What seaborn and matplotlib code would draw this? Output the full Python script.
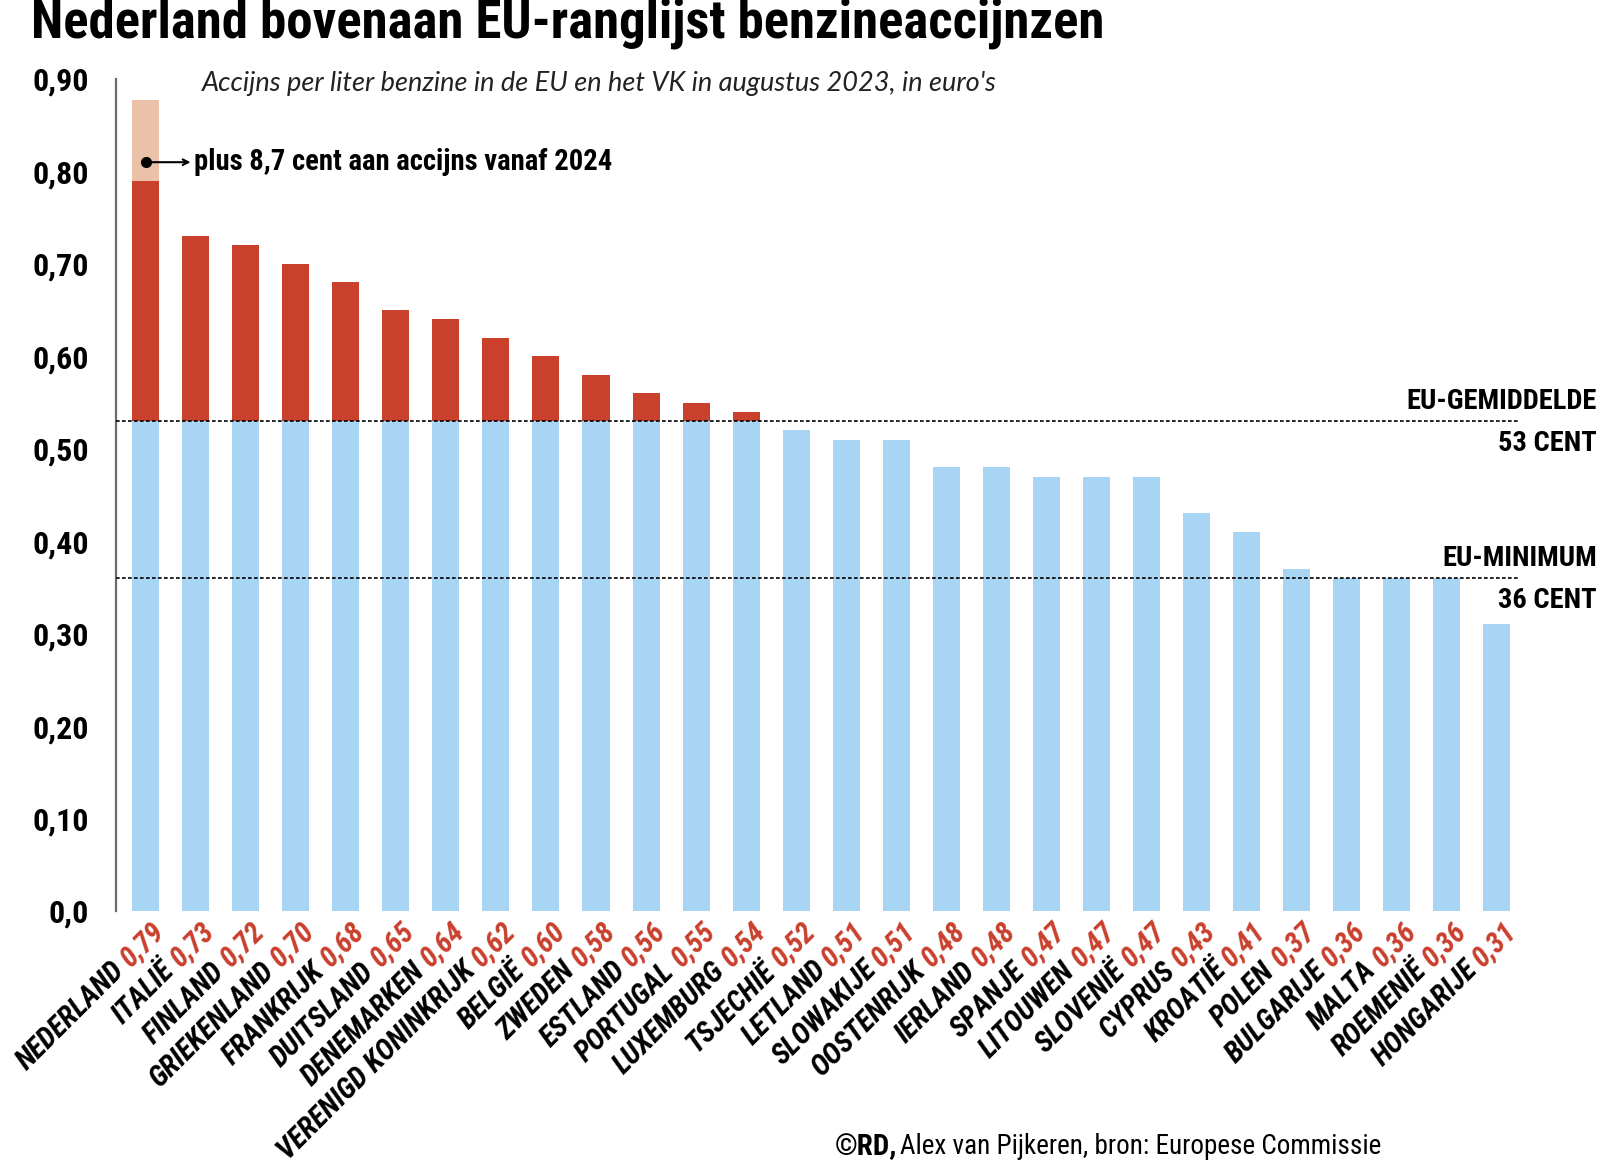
import numpy as np
import pandas as pd
import seaborn as sns
import matplotlib.pyplot as plt
from matplotlib import font_manager
from matplotlib.font_manager import FontProperties
from matplotlib.textpath import TextPath

# data
landen = ["NEDERLAND", "ITALIË", "FINLAND", "GRIEKENLAND", "FRANKRIJK", "DUITSLAND",
          "DENEMARKEN", "VERENIGD KONINKRIJK", "BELGIË", "ZWEDEN", "ESTLAND", "PORTUGAL",
          "LUXEMBURG", "TSJECHIË", "LETLAND", "SLOWAKIJE", "OOSTENRIJK", "IERLAND",
          "SPANJE", "LITOUWEN", "SLOVENIË", "CYPRUS", "KROATIË", "POLEN", "BULGARIJE",
          "MALTA", "ROEMENIË", "HONGARIJE"]
accijns = [0.79, 0.73, 0.72, 0.70, 0.68, 0.65, 0.64, 0.62, 0.60, 0.58, 0.56, 0.55,
           0.54, 0.52, 0.51, 0.51, 0.48, 0.48, 0.47, 0.47, 0.47, 0.43, 0.41, 0.37,
           0.36, 0.36, 0.36, 0.31]
extra_nl_2024 = 0.087
eu_gemiddelde = 0.53
eu_minimum = 0.36
y_ticks = [0.0, 0.1, 0.2, 0.3, 0.4, 0.5, 0.6, 0.7, 0.8, 0.9]
y_labels = ["0,0", "0,10", "0,20", "0,30", "0,40", "0,50", "0,60", "0,70", "0,80", "0,90"]

RED = "#c9402d"
BLUE = "#a8d5f3"
PEACH = "#ecc1a9"
GREY = "#6b6b6b"

names = {f.name for f in font_manager.fontManager.ttflist}


def pick(*cands):
    return next((c for c in cands if c in names), "DejaVu Sans")


NARROW = pick("Liberation Sans Narrow", "Roboto Condensed", "DejaVu Sans")
ITALIC = pick("Lato", "Open Sans", "DejaVu Sans")


def text_width(s, prop):
    # width in points
    return TextPath((0, 0), s, prop=prop).get_extents().width


sns.set_style("white")
plt.rcParams["font.family"] = [NARROW, "DejaVu Sans"]
plt.rcParams["text.color"] = "black"
plt.rcParams["ytick.labelcolor"] = "black"

df = pd.DataFrame({
    "land": landen,
    "accijns": accijns,
    "blauw": np.minimum(accijns, eu_gemiddelde),
    "toekomst": [v + (extra_nl_2024 if l == "NEDERLAND" else 0.0) for l, v in zip(landen, accijns)],
})

fig = plt.figure(figsize=(16, 11.64), dpi=100)
ax = fig.add_axes([0.0725, 0.21735, 0.87625, 0.71478])

sns.barplot(data=df, x="land", y="toekomst", color=PEACH, width=0.54, saturation=1,
            linewidth=0, errorbar=None, ax=ax)
sns.barplot(data=df, x="land", y="accijns", color=RED, width=0.54, saturation=1,
            linewidth=0, errorbar=None, ax=ax)
sns.barplot(data=df, x="land", y="blauw", color=BLUE, width=0.54, saturation=1,
            linewidth=0, errorbar=None, ax=ax)

ax.set_xlim(-0.59, 27.42)
ax.set_ylim(0, 0.9)
ax.set_xlabel("")
ax.set_ylabel("")
ax.set_xticks([])
ax.set_yticks(y_ticks)
ax.set_yticklabels(y_labels, fontsize=23, fontweight="bold", color="black")
ax.tick_params(axis="y", direction="inout", length=23, width=1.6, color=GREY, pad=8)
for side in ["top", "right", "bottom"]:
    ax.spines[side].set_visible(False)
ax.spines["left"].set_color(GREY)
ax.spines["left"].set_linewidth(1.6)

# reference lines
for level, top, bottom in [(eu_gemiddelde, "EU-GEMIDDELDE", "53 CENT"),
                           (eu_minimum, "EU-MINIMUM", "36 CENT")]:
    ax.axhline(level, color="black", lw=1.2, ls=(0, (2.2, 1.4)), zorder=5)
    ax.annotate(top, xy=(0.998, level), xycoords=("figure fraction", "data"),
                xytext=(0, 14), textcoords="offset points", ha="right", va="center",
                fontsize=20.5, fontweight="bold", annotation_clip=False)
    ax.annotate(bottom, xy=(0.998, level), xycoords=("figure fraction", "data"),
                xytext=(0, -16), textcoords="offset points", ha="right", va="center",
                fontsize=20.5, fontweight="bold", annotation_clip=False)

# annotation for 2024 increase
ax.plot(0, 0.81, "o", color="black", ms=7, zorder=6)
ax.annotate("", xy=(0.9, 0.81), xytext=(0, 0.81),
            arrowprops=dict(arrowstyle="->", color="black", lw=1.5,
                            shrinkA=0, shrinkB=0), zorder=6)
ax.text(0.97, 0.81, "plus 8,7 cent aan accijns vanaf 2024", ha="left", va="center",
        fontsize=20.6, fontweight="bold")

# rotated two-colour labels
lab_fp = FontProperties(family=NARROW, weight="bold", style="italic", size=21)
c45 = np.cos(np.radians(45))
dx0, dy0 = 10.5, -11.5
for i, (land, v) in enumerate(zip(landen, accijns)):
    val = f"{v:.2f}".replace(".", ",")
    d = text_width(val, lab_fp) + 0.28 * 21
    ax.annotate(val, xy=(i, 0), xytext=(dx0, dy0), textcoords="offset points",
                rotation=45, rotation_mode="anchor", ha="right", va="center",
                color=RED, fontproperties=lab_fp, annotation_clip=False)
    ax.annotate(land, xy=(i, 0), xytext=(dx0 - d * c45, dy0 - d * c45),
                textcoords="offset points", rotation=45, rotation_mode="anchor",
                ha="right", va="center", color="black", fontproperties=lab_fp,
                annotation_clip=False)

# titles
fig.text(31 / 1600, 1 - 23 / 1164, "Nederland bovenaan EU-ranglijst benzineaccijnzen",
         ha="left", va="center", fontsize=38, fontweight="bold")
fig.text(202 / 1600, 1 - 84 / 1164,
         "Accijns per liter benzine in de EU en het VK in augustus 2023, in euro's",
         ha="left", va="center", fontsize=19.5, style="italic", family=ITALIC, color="#222222")

# footer
foot_bold = FontProperties(family=NARROW, weight="bold", size=21)
x0 = 835 / 1600
fig.text(x0, 1 - 1147 / 1164, "©RD,", ha="left", va="center", fontproperties=foot_bold)
wb = text_width("©RD,", foot_bold) * 100 / 72 / 1600
fig.text(x0 + wb + 5 / 1600, 1 - 1147 / 1164, "Alex van Pijkeren, bron: Europese Commissie",
         ha="left", va="center", fontsize=19.5)

fig.savefig("out.png", dpi=100)
